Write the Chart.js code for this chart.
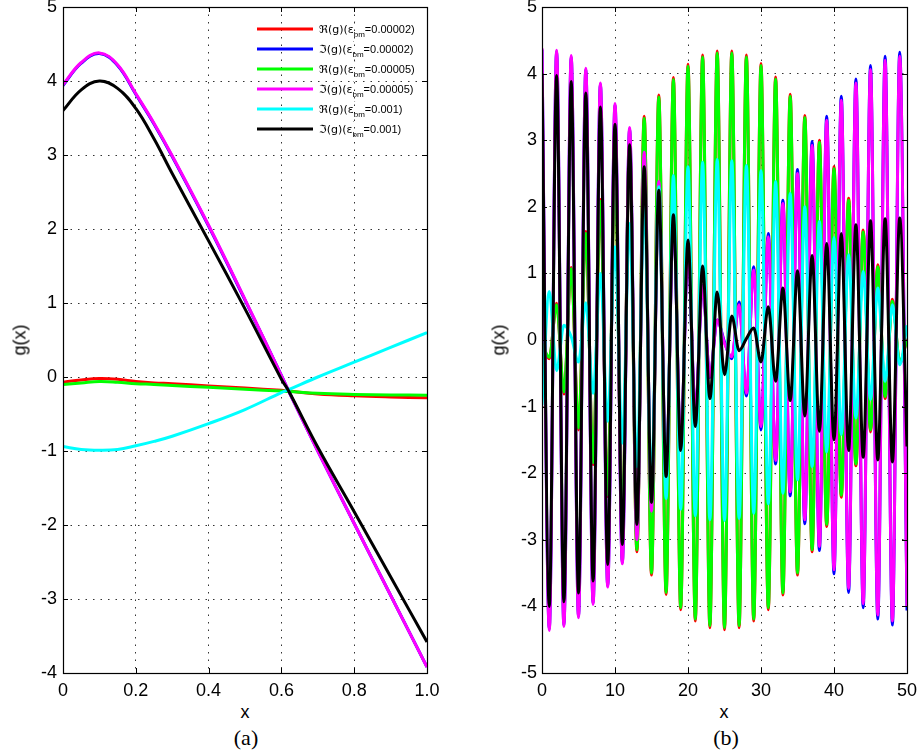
<!DOCTYPE html>
<html>
<head>
<meta charset="utf-8">
<script src="https://cdn.jsdelivr.net/npm/chart.js@4.4.0/dist/chart.umd.min.js"></script>
<style>
  body { margin: 0; background: #fff; }
  #wrap { position: relative; width: 920px; height: 755px; font-family: "Liberation Sans", Arial, sans-serif; }
  canvas { position: absolute; top: 0; }
  .lbl { position: absolute; font-size: 18px; color: #000; transform: translate(-50%, -50%); white-space: nowrap; }
  .rot { transform: translate(-50%, -50%) rotate(-90deg); }
  .cap { font-family: "Liberation Serif", "Times New Roman", serif; font-size: 22px; }
</style>
</head>
<body>
<div id="wrap">
  <canvas id="plotA" width="440" height="700" style="left:0"></canvas>
  <canvas id="plotB" width="460" height="700" style="left:460px"></canvas>
  <div class="lbl rot" style="left:20px;top:340px">g(x)</div>
  <div class="lbl" style="left:245px;top:712px">x</div>
  <div class="lbl cap" style="left:246px;top:738px">(a)</div>
  <div class="lbl rot" style="left:499px;top:340px">g(x)</div>
  <div class="lbl" style="left:724px;top:712px">x</div>
  <div class="lbl cap" style="left:726px;top:738px">(b)</div>
</div>
<script>
// ---- panel (a): 0 <= x <= 1 ----
const xA = [0, 0.05, 0.1, 0.15, 0.2, 0.25, 0.3, 0.4, 0.5, 0.6, 0.62, 0.7, 0.8, 0.9, 1.0];
const reA_2 = [-0.07, -0.04, -0.02, -0.03, -0.06, -0.08, -0.09, -0.12, -0.15, -0.18, -0.19, -0.23, -0.255, -0.27, -0.28];
const imA_2 = [3.94, 4.24, 4.37, 4.21, 3.82, 3.42, 2.98, 2.04, 1.04, 0.02, -0.19, -1.0, -1.98, -2.95, -3.92];
const reA_5 = [-0.1, -0.08, -0.06, -0.07, -0.09, -0.1, -0.115, -0.14, -0.165, -0.19, -0.195, -0.22, -0.235, -0.243, -0.245];
const imA_5 = [3.95, 4.25, 4.38, 4.22, 3.83, 3.43, 2.99, 2.05, 1.05, 0.02, -0.19, -1.0, -1.98, -2.95, -3.92];
const reA_1k = [-0.94, -0.98, -0.99, -0.98, -0.93, -0.87, -0.8, -0.63, -0.44, -0.21, -0.17, 0.0, 0.2, 0.4, 0.6];
const imA_1k = [3.6, 3.88, 4.0, 3.9, 3.63, 3.22, 2.75, 1.84, 0.92, -0.03, -0.19, -0.95, -1.82, -2.7, -3.58];

// ---- panel (b): 0 <= x <= 50, sampled at the crests and troughs ----
const xB = Array.from({ length: 51 }, (_, i) => i);
const reB_2 = [-0.07, -0.28, 0.55, -0.81, 1.09, -1.35, 1.63, -1.87, 2.11, -2.35, 2.58, -2.8, 2.99, -3.18, 3.36,
  -3.53, 3.68, -3.82, 3.94, -4.05, 4.14, -4.22, 4.28, -4.32, 4.34, -4.35, 4.34, -4.32, 4.28, -4.22, 4.15,
  -4.05, 3.95, -3.83, 3.69, -3.53, 3.37, -3.18, 3.0, -2.8, 2.6, -2.36, 2.13, -1.89, 1.65, -1.38, 1.13,
  -0.88, 0.61, -0.35, 0.02];
const imB_2 = [4.36, -4.34, 4.33, -4.28, 4.25, -4.15, 4.06, -3.95, 3.84, -3.69, 3.53, -3.34, 3.17, -2.98, 2.8,
  -2.55, 2.36, -2.1, 1.85, -1.6, 1.34, -1.08, 0.82, -0.56, 0.3, -0.03, -0.28, 0.57, -0.84, 1.1, -1.35,
  1.6, -1.86, 2.1, -2.34, 2.56, -2.76, 2.98, -3.16, 3.36, -3.51, 3.66, -3.79, 3.92, -4.02, 4.12, -4.19,
  4.26, -4.28, 4.32, -4.06];
const reB_5 = [-0.05, -0.26, 0.53, -0.78, 1.07, -1.32, 1.6, -1.84, 2.08, -2.32, 2.55, -2.77, 2.96, -3.15, 3.33,
  -3.5, 3.65, -3.79, 3.91, -4.02, 4.11, -4.19, 4.25, -4.29, 4.31, -4.32, 4.31, -4.29, 4.25, -4.19, 4.12,
  -4.02, 3.92, -3.8, 3.66, -3.5, 3.34, -3.15, 2.97, -2.77, 2.57, -2.33, 2.1, -1.86, 1.62, -1.35, 1.1,
  -0.85, 0.58, -0.32, 0.0];
const imB_5 = [4.38, -4.36, 4.35, -4.3, 4.27, -4.17, 4.08, -3.97, 3.86, -3.71, 3.55, -3.36, 3.19, -3.0, 2.82,
  -2.57, 2.38, -2.12, 1.87, -1.62, 1.35, -1.08, 0.82, -0.55, 0.3, -0.05, -0.25, 0.53, -0.8, 1.05, -1.3,
  1.55, -1.81, 2.05, -2.28, 2.5, -2.7, 2.92, -3.1, 3.3, -3.45, 3.6, -3.73, 3.86, -3.96, 4.06, -4.13,
  4.2, -4.22, 4.26, -4.0];
const reB_1k = [-0.98, 0.73, -0.46, 0.22, 0.05, -0.33, 0.56, -0.8, 1.0, -1.22, 1.4, -1.55, 1.75, -1.9, 2.04,
  -2.18, 2.3, -2.38, 2.47, -2.54, 2.6, -2.64, 2.67, -2.7, 2.71, -2.71, 2.69, -2.68, 2.62, -2.6, 2.54,
  -2.46, 2.38, -2.3, 2.2, -2.1, 2.0, -1.9, 1.78, -1.68, 1.54, -1.42, 1.28, -1.17, 1.03, -0.89, 0.78,
  -0.62, 0.53, -0.37, 0.22];
const imB_1k = [4.0, -4.0, 3.97, -3.93, 3.88, -3.8, 3.71, -3.62, 3.5, -3.37, 3.24, -3.07, 2.93, -2.77, 2.6,
  -2.44, 2.25, -2.05, 1.88, -1.66, 1.5, -1.3, 1.11, -0.88, 0.72, -0.52, 0.36, -0.16, 0.02, 0.18, -0.33,
  0.5, -0.62, 0.78, -0.91, 1.04, -1.14, 1.27, -1.37, 1.45, -1.5, 1.6, -1.66, 1.73, -1.76, 1.79, -1.8,
  1.82, -1.83, 1.83, -1.6];

const colors = ['#ff0000', '#0000ff', '#00ff00', '#ff00ff', '#00ffff', '#000000'];
const legendParts = [
  ['\u211C(g)(\u03B5', '=0.00002)'],
  ['\u2111(g)(\u03B5', '=0.00002)'],
  ['\u211C(g)(\u03B5', '=0.00005)'],
  ['\u2111(g)(\u03B5', '=0.00005)'],
  ['\u211C(g)(\u03B5', '=0.001)'],
  ['\u2111(g)(\u03B5', '=0.001)']
];

Chart.defaults.font.family = '"Liberation Sans", Arial, sans-serif';
Chart.defaults.color = '#000';

// box around the axes with inward ticks, like a MATLAB frame
const framePlugin = {
  id: 'frame',
  afterDraw(chart) {
    const { ctx, chartArea: a, scales } = chart;
    ctx.save();
    ctx.strokeStyle = '#000';
    ctx.lineWidth = 1;
    ctx.setLineDash([]);
    ctx.beginPath();
    scales.x.ticks.forEach(t => {
      const px = Math.round(scales.x.getPixelForValue(t.value)) + 0.5;
      ctx.moveTo(px, a.bottom); ctx.lineTo(px, a.bottom - 5);
      ctx.moveTo(px, a.top); ctx.lineTo(px, a.top + 5);
    });
    scales.y.ticks.forEach(t => {
      const py = Math.round(scales.y.getPixelForValue(t.value)) + 0.5;
      ctx.moveTo(a.left, py); ctx.lineTo(a.left + 5, py);
      ctx.moveTo(a.right, py); ctx.lineTo(a.right - 5, py);
    });
    ctx.stroke();
    ctx.lineWidth = 1.2;
    ctx.strokeRect(Math.round(a.left) + 0.5, Math.round(a.top) + 0.5,
      Math.round(a.right - a.left), Math.round(a.bottom - a.top));
    ctx.restore();
  }
};

// legend with subscripts, drawn inside the top right of panel (a)
const legendPlugin = {
  id: 'subLegend',
  afterDatasetsDraw(chart) {
    const { ctx, chartArea: a } = chart;
    const x0 = a.right - 170, x1 = a.right - 114, tx = a.right - 108;
    ctx.save();
    legendParts.forEach((p, i) => {
      const y = a.top + 22 + i * 20;
      ctx.strokeStyle = colors[i];
      ctx.lineWidth = 3;
      ctx.beginPath(); ctx.moveTo(x0, y); ctx.lineTo(x1, y); ctx.stroke();
      ctx.fillStyle = '#000';
      ctx.textBaseline = 'alphabetic';
      ctx.font = '11px "DejaVu Sans", "Liberation Sans", sans-serif';
      let x = tx;
      ctx.fillText(p[0], x, y + 4);
      x += ctx.measureText(p[0]).width;
      ctx.font = '8px "Liberation Sans", sans-serif';
      ctx.fillText('\u02D9', x, y - 2);
      ctx.fillText('bm', x, y + 8);
      x += ctx.measureText('bm').width;
      ctx.font = '11px "Liberation Sans", sans-serif';
      ctx.fillText(p[1], x, y + 4);
    });
    ctx.restore();
  }
};

// smooth = true: bezier through the samples; false: monotone cubic between crests
function makePlot(id, xs, series, xr, yr, yWidth, yPad, smooth, extra) {
  const datasets = series.map((ys, i) => ({
    data: xs.map((x, k) => ({ x: x, y: ys[k] })),
    borderColor: colors[i],
    borderWidth: 3,
    pointRadius: 0,
    tension: smooth ? 0.4 : 0,
    cubicInterpolationMode: smooth ? 'default' : 'monotone',
    borderJoinStyle: 'round',
    order: 6 - i
  }));
  return new Chart(document.getElementById(id), {
    type: 'line',
    data: { datasets },
    options: {
      responsive: false,
      animation: false,
      devicePixelRatio: 1,
      layout: { padding: { left: 0, top: 7, right: 13, bottom: 0 } },
      plugins: { legend: { display: false }, tooltip: { enabled: false } },
      scales: {
        x: {
          type: 'linear', min: xr[0], max: xr[1],
          ticks: { stepSize: xr[2], font: { size: 18 }, padding: 7, maxRotation: 0, autoSkip: false },
          grid: { color: '#333', lineWidth: 1, drawTicks: false },
          border: { display: false, dash: [1.5, 6] },
          afterFit: s => { s.height = 27; s.paddingLeft = 0; s.paddingRight = 0; }
        },
        y: {
          min: yr[0], max: yr[1],
          ticks: { stepSize: 1, font: { size: 18 }, padding: yPad },
          grid: { color: '#333', lineWidth: 1, drawTicks: false },
          border: { display: false, dash: [1.5, 6] },
          afterFit: s => { s.width = yWidth; s.paddingTop = 0; s.paddingBottom = 0; }
        }
      }
    },
    plugins: [framePlugin].concat(extra)
  });
}

makePlot('plotA', xA, [reA_2, imA_2, reA_5, imA_5, reA_1k, imA_1k], [0, 1, 0.2], [-4, 5], 63, 6, true, [legendPlugin]);
makePlot('plotB', xB, [reB_2, imB_2, reB_5, imB_5, reB_1k, imB_1k], [0, 50, 10], [-5, 5], 82, 5, false, []);
</script>
</body>
</html>
